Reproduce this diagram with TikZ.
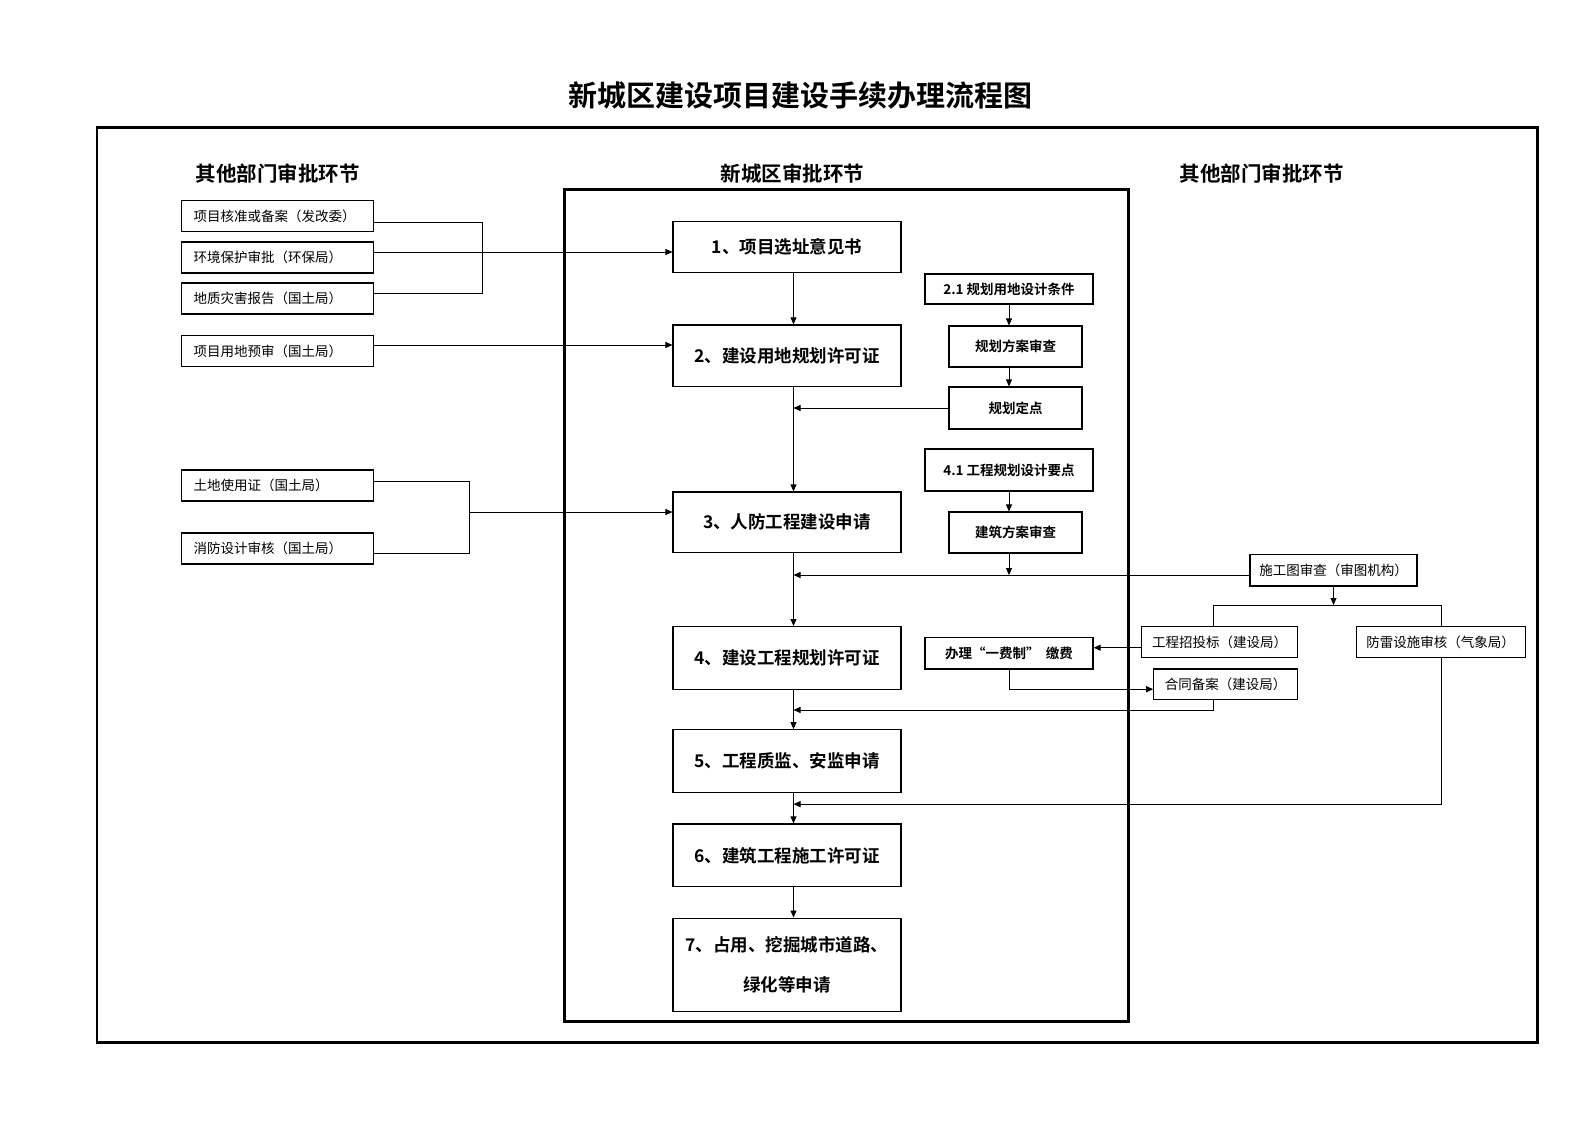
\documentclass[tikz,border=0pt]{standalone}
\usepackage{fontspec}
\setmainfont{Noto Sans CJK SC}[BoldFont={Noto Sans CJK SC Bold}]
\usetikzlibrary{arrows.meta,calc}
\begin{document}
\begin{tikzpicture}[x=1pt,y=-1pt,
 bx/.style={draw,line width=1.1pt,inner sep=0pt,align=center},
 lbox/.style={draw,line width=1.1pt,inner ysep=0pt,inner xsep=12pt,text width=167.5pt,align=left,minimum height=31pt,font=\fontsize{13.5}{16}\selectfont},
 mbox/.style={bx,minimum width=228pt,font=\bfseries\fontsize{17.5}{20}\selectfont},
 sbox/.style={bx,font=\bfseries\fontsize{13.5}{16}\selectfont},
 rbox/.style={bx,minimum height=31.4pt,font=\fontsize{13.5}{16}\selectfont},
 head/.style={font=\bfseries\fontsize{20.5}{24}\selectfont},
 conn/.style={line width=0.9pt},
 arr/.style={conn,-{Triangle[length=7pt,width=6pt]}},
]
\useasboundingbox (0,0) rectangle (1587,1122);
\fill[white] (0,0) rectangle (1587,1122);

% title and frames
\node[font=\bfseries\fontsize{29}{34}\selectfont] (title) at (800.5,96) {新城区建设项目建设手续办理流程图};
\draw[line width=2.5pt] (97.2,127.5) rectangle (1537.4,1042.5);
\draw[line width=3pt] (564.8,189.3) rectangle (1128.5,1021.2);
\node[head] (hl) at (277.8,174) {其他部门审批环节};
\node[head] (hm) at (792.5,174) {新城区审批环节};
\node[head] (hr) at (1261.5,174) {其他部门审批环节};

% left boxes
\node[lbox] (a) at (277.3,216) {项目核准或备案（发改委）};
\node[lbox] (b) at (277.3,257.5) {环境保护审批（环保局）};
\node[lbox] (c) at (277.3,298.5) {地质灾害报告（国土局）};
\node[lbox] (d) at (277.3,351) {项目用地预审（国土局）};
\node[lbox] (e) at (277.3,485.5) {土地使用证（国土局）};
\node[lbox] (f) at (277.3,548.5) {消防设计审核（国土局）};

% main boxes
\node[mbox,minimum height=50.6pt] (m1) at (787,247) {1、项目选址意见书};
\node[mbox,minimum height=61.7pt] (m2) at (787,355.8) {2、建设用地规划许可证};
\node[mbox,minimum height=60.7pt] (m3) at (787,522.3) {3、人防工程建设申请};
\node[mbox,minimum height=62.7pt] (m4) at (787,657.9) {4、建设工程规划许可证};
\node[mbox,minimum height=62.8pt] (m5) at (787,761.1) {5、工程质监、安监申请};
\node[mbox,minimum height=62.7pt] (m6) at (787,855.3) {6、建筑工程施工许可证};
\node[mbox,minimum height=93.1pt,font=\bfseries\fontsize{17.5}{40.5}\selectfont] (m7) at (787,964.6) {7、占用、挖掘城市道路、\\绿化等申请};

% sub boxes
\node[sbox,minimum width=168pt,minimum height=30pt] (s21) at (1009,289) {2.1 规划用地设计条件};
\node[sbox,minimum width=133pt,minimum height=41pt] (gh) at (1015.5,346.5) {规划方案审查};
\node[sbox,minimum width=133pt,minimum height=42pt] (gd) at (1015.5,408) {规划定点};
\node[sbox,minimum width=168pt,minimum height=42pt] (s41) at (1009,470) {4.1 工程规划设计要点};
\node[sbox,minimum width=133pt,minimum height=41pt] (jz) at (1015.5,532.5) {建筑方案审查};
\node[sbox,minimum width=168pt,minimum height=31.4pt] (yfz) at (1009,653.3) {办理“一费制”\ \ 缴费};

% right boxes
\node[rbox,minimum width=167pt] (sgt) at (1333.5,570.3) {施工图审查（审图机构）};
\node[rbox,minimum width=156pt] (ztb) at (1219.5,642.2) {工程招投标（建设局）};
\node[rbox,minimum width=169pt] (flz) at (1440.7,642.2) {防雷设施审核（气象局）};
\node[rbox,minimum width=143.7pt,minimum height=30.4pt] (htba) at (1225.6,684.2) {合同备案（建设局）};

% helper coordinates
\coordinate (col) at (793.5,0);
\coordinate (bx1) at (482,0);
\coordinate (bx2) at (469,512);
\coordinate (l4) at (0,575);
\coordinate (vx1) at (1213.5,605);
\coordinate (vx2) at (1441.2,605);

% left connectors
\path ($(a.east)+(0,6)$) coordinate (aj)
      ($(b.east)+(0,-5.5)$) coordinate (bj)
      ($(c.east)+(0,-5.5)$) coordinate (cj)
      ($(d.east)+(0,-6)$) coordinate (dj)
      ($(e.east)+(0,-4.5)$) coordinate (ej)
      ($(f.east)+(0,4.5)$) coordinate (fj);
\draw[conn] (aj) -- (aj -| bx1) -- (cj -| bx1) -- (cj);
\draw[arr] (bj) -- (bj -| m1.west);
\draw[arr] (dj) -- (dj -| m2.west);
\draw[conn] (ej) -- (ej -| bx2) -- (fj -| bx2) -- (fj);
\draw[arr] (bx2) -- (bx2 -| m3.west);

% main column
\draw[arr] (col |- m1.south) -- (col |- m2.north);
\draw[arr] (col |- m2.south) -- (col |- m3.north);
\draw[arr] (col |- m3.south) -- (col |- m4.north);
\draw[arr] (col |- m4.south) -- (col |- m5.north);
\draw[arr] (col |- m5.south) -- (col |- m6.north);
\draw[arr] (col |- m6.south) -- (col |- m7.north);

% sub-chain connectors
\draw[arr] (s21.south) -- (s21.south |- gh.north);
\draw[arr] (s21.south |- gh.south) -- (s21.south |- gd.north);
\draw[arr] (gd.west) -- (col |- gd.west);
\draw[arr] (s41.south) -- (s41.south |- jz.north);
\draw[arr] (s41.south |- jz.south) -- (s41.south |- l4);
\draw[arr] (sgt.west |- l4) -- (col |- l4);

% right connectors
\draw[arr] (sgt.south) -- (sgt.south |- vx1);
\draw[conn] (vx1 |- ztb.north) -- (vx1) -- (vx2) -- (vx2 |- flz.north);
\draw[arr] ($(ztb.west)+(0,5.5)$) coordinate (zj) -- (zj -| yfz.east);
\draw[arr] (yfz.south) |- ($(htba.west)+(0,5)$);
\draw[arr] (vx1 |- htba.south) -- ++(0,10) coordinate (hj) -- (col |- hj);
\draw[arr] (vx2 |- flz.south) -- ++(0,145.7) coordinate (fl) -- (col |- fl);
\end{tikzpicture}
\end{document}
